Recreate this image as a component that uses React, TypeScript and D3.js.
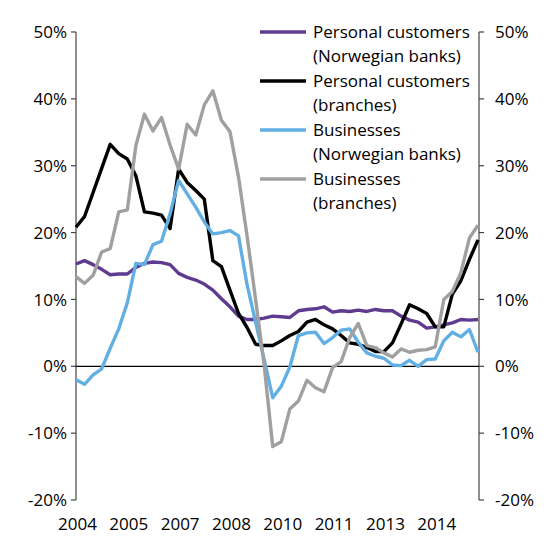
import { useEffect, useRef } from "react"
import * as d3 from "d3"

// quarterly, 2004 Q1 - 2015 Q4
const quarters = d3.range(2004, 2016).flatMap((y) => [1, 2, 3, 4].map((q) => `${y}Q${q}`))

const personalNorwegian = [
  15.3, 15.8, 15.2, 14.5, 13.7, 13.8, 13.8, 14.8, 15.4, 15.6, 15.5, 15.2,
  13.9, 13.3, 12.9, 12.3, 11.4, 10.1, 8.9, 7.5, 7.0, 7.0, 7.2, 7.5,
  7.4, 7.3, 8.3, 8.5, 8.6, 8.9, 8.1, 8.3, 8.2, 8.4, 8.2, 8.5,
  8.3, 8.3, 7.5, 6.9, 6.6, 5.7, 5.9, 6.2, 6.5, 7.0, 6.9, 7.0,
]
const personalBranches = [
  20.8, 22.4, 26.0, 29.6, 33.2, 31.8, 31.0, 28.5, 23.1, 22.9, 22.6, 20.6,
  29.5, 27.5, 26.3, 25.0, 15.8, 14.9, 11.4, 7.9, 5.8, 3.3, 3.1, 3.1,
  3.8, 4.6, 5.2, 6.6, 7.0, 6.2, 5.6, 4.6, 3.5, 3.3, 2.8, 2.2,
  2.2, 3.5, 6.3, 9.2, 8.6, 7.9, 5.9, 5.9, 10.8, 12.8, 16.0, 18.9,
]
const businessNorwegian = [
  -2.0, -2.7, -1.3, -0.4, 2.7, 5.6, 9.5, 15.4, 15.2, 18.2, 18.7, 22.8,
  27.8, 25.8, 23.8, 21.6, 19.8, 20.0, 20.3, 19.5, 12.2, 6.6, 1.0, -4.7,
  -3.0, -0.1, 4.6, 5.0, 5.1, 3.4, 4.3, 5.4, 5.6, 3.6, 2.0, 1.5,
  1.2, 0.2, 0.1, 0.9, 0.0, 1.0, 1.1, 3.8, 5.1, 4.4, 5.5, 2.1,
]
const businessBranches = [
  13.4, 12.4, 13.6, 17.1, 17.6, 23.1, 23.4, 33.0, 37.7, 35.2, 37.2, 33.1,
  29.5, 36.2, 34.6, 39.1, 41.2, 36.8, 35.1, 28.3, 19.5, 10.0, 0.2, -12.0,
  -11.3, -6.4, -5.2, -2.1, -3.2, -3.8, -0.2, 0.7, 4.3, 6.4, 3.1, 2.8,
  2.0, 1.4, 2.6, 2.1, 2.4, 2.5, 2.9, 10.0, 11.2, 14.0, 19.2, 21.1,
]

const seriesNames = [
  ["Personal customers", "(Norwegian banks)"],
  ["Personal customers", "(branches)"],
  ["Businesses", "(Norwegian banks)"],
  ["Businesses", "(branches)"],
]
const seriesColors = ["#5f3b8f", "#000000", "#62afe4", "#a0a0a0"]
const seriesValues = [personalNorwegian, personalBranches, businessNorwegian, businessBranches]

const yTicks = [-20, -10, 0, 10, 20, 30, 40, 50]
const xTickLabels = ["2004", "2005", "2007", "2008", "2010", "2011", "2013", "2014"]

export default function App() {
  const svgRef = useRef<SVGSVGElement>(null)

  useEffect(() => {
    if (!svgRef.current) return
    const svg = d3.select(svgRef.current)
    svg.selectAll("*").remove()

    const width = 560
    const height = 560
    const left = 76
    const right = 479
    const font = "'Open Sans', sans-serif"

    svg.attr("width", width).attr("height", height)

    const x = d3.scaleLinear().domain([0, quarters.length - 1]).range([left, 478])
    const y = d3.scaleLinear().domain([-20, 50]).range([500, 32])

    // axes
    const axisColor = "#444"
    ;[left, right].forEach((ax, side) => {
      svg
        .append("line")
        .attr("x1", ax)
        .attr("x2", ax)
        .attr("y1", y(50))
        .attr("y2", y(-20))
        .attr("stroke", axisColor)
        .attr("stroke-width", 1.2)

      yTicks.forEach((t) => {
        const dir = side === 0 ? -1 : 1
        svg
          .append("line")
          .attr("x1", ax)
          .attr("x2", ax + dir * 5)
          .attr("y1", y(t))
          .attr("y2", y(t))
          .attr("stroke", axisColor)
          .attr("stroke-width", 1.2)

        svg
          .append("text")
          .attr("x", side === 0 ? ax - 9 : ax + 16)
          .attr("y", y(t))
          .attr("dy", "0.36em")
          .attr("text-anchor", side === 0 ? "end" : "start")
          .style("font-family", font)
          .style("font-size", "17px")
          .attr("fill", "#000")
          .text(`${t}%`)
      })
    })

    // zero line
    svg
      .append("line")
      .attr("x1", left)
      .attr("x2", right)
      .attr("y1", y(0))
      .attr("y2", y(0))
      .attr("stroke", "#000")
      .attr("stroke-width", 1.3)

    // x labels, every 6th quarter
    xTickLabels.forEach((label, i) => {
      svg
        .append("text")
        .attr("x", x(i * 6) + 1.5)
        .attr("y", 530)
        .attr("text-anchor", "middle")
        .style("font-family", font)
        .style("font-size", "17px")
        .attr("fill", "#000")
        .text(label)
    })

    const line = d3
      .line<number>()
      .x((_, i) => x(i))
      .y((d) => y(d))

    seriesValues.forEach((values, s) => {
      svg
        .append("path")
        .datum(values)
        .attr("fill", "none")
        .attr("stroke", seriesColors[s])
        .attr("stroke-width", 3.4)
        .attr("stroke-linejoin", "round")
        .attr("d", line)
    })

    // legend
    const legend = svg.append("g").attr("transform", "translate(260,32)")
    seriesNames.forEach((lines, s) => {
      const gy = s * 49
      legend
        .append("line")
        .attr("x1", 0)
        .attr("x2", 46)
        .attr("y1", gy)
        .attr("y2", gy)
        .attr("stroke", seriesColors[s])
        .attr("stroke-width", 3.4)

      lines.forEach((txt, j) => {
        legend
          .append("text")
          .attr("x", 53)
          .attr("y", gy + j * 24)
          .attr("dy", "0.36em")
          .style("font-family", font)
          .style("font-size", "17px")
          .attr("fill", "#000")
          .text(txt)
      })
    })
  }, [])

  return <svg ref={svgRef} style={{ position: "absolute", left: 0, top: 0 }} />
}
